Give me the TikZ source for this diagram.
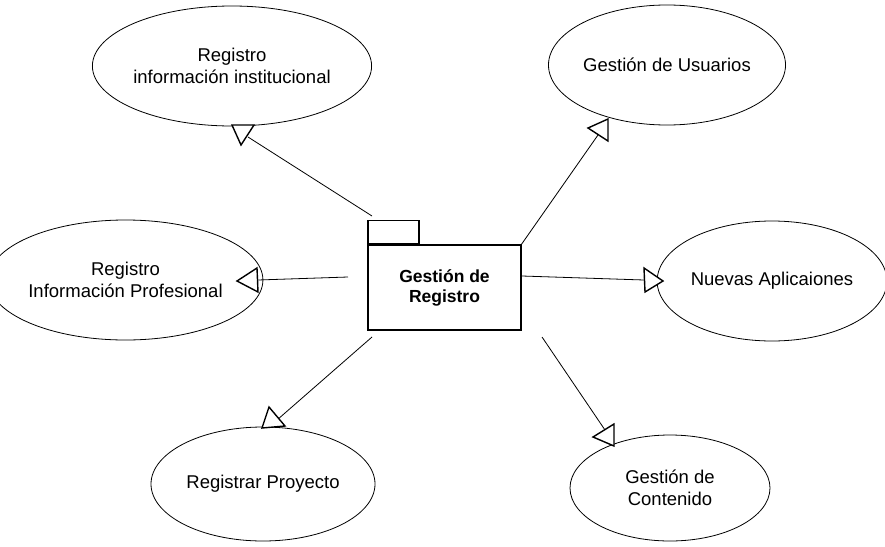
\documentclass[tikz,border=0pt]{standalone}
\usepackage{fontspec}
\setmainfont{Liberation Sans}
\usetikzlibrary{shapes.geometric}
\begin{document}
\begin{tikzpicture}[x=1pt,y=-1pt,
  usecase/.style={draw, ellipse, line width=0.8pt, inner sep=0pt, align=center,
                  font=\fontsize{18.5}{22.5}\selectfont},
  pkgbox/.style={draw, line width=1.2pt, inner sep=0pt},
  link/.style={line width=0.8pt},
  openhead/.style={draw, line width=1.4pt, line join=miter, fill=white}]
\fill[white] (0,0) rectangle (885,546);
\useasboundingbox (0,0) rectangle (885,546);

% use cases
\node[usecase, minimum width=230pt, minimum height=120pt] (inst) at (232,66)
  {Registro\\información institucional};
\node[usecase, minimum width=224pt, minimum height=120pt] (usu) at (667,65)
  {Gestión de Usuarios};
\node[usecase, minimum width=225pt, minimum height=120pt] (prof) at (125.5,280)
  {Registro\\Información Profesional};
\node[usecase, minimum width=218pt, minimum height=120pt] (nuevas) at (772,281)
  {Nuevas Aplicaiones};
\node[usecase, minimum width=224pt, minimum height=114pt] (proy) at (263,484)
  {Registrar Proyecto};
\node[usecase, minimum width=200pt, minimum height=106pt] (cont) at (670,488)
  {Gestión de\\Contenido};

% package
\node[pkgbox, minimum width=153pt, minimum height=85pt, align=center,
      font=\fontsize{17.5}{20}\selectfont\bfseries] (pkg) at (444.5,287.5)
  {Gestión de\\Registro};
\node[pkgbox, anchor=south west, minimum width=51pt, minimum height=23pt] (tab)
  at (pkg.north west) {};

% connector end points
\coordinate (s1) at (372,216); \coordinate (e1) at (248,137);
\coordinate (s2) at (521,245); \coordinate (e2) at (598,135);
\coordinate (s3) at (348,277); \coordinate (e3) at (258,280);
\coordinate (s4) at (522,276); \coordinate (e4) at (644,280);
\coordinate (s5) at (372,337); \coordinate (e5) at (277,420);
\coordinate (s6) at (542,337); \coordinate (e6) at (605,430);

\draw[link] (s1) -- (e1);
\draw[link] (s2) -- (e2);
\draw[link] (s3) -- (e3);
\draw[link] (s4) -- (e4);
\draw[link] (s5) -- (e5);
\draw[link] (s6) -- (e6);

% hollow triangle heads
\draw[openhead] (232,125) -- (254,125) -- (241,145) -- cycle;
\draw[openhead] (588,128) -- (608,119) -- (608,141) -- cycle;
\draw[openhead] (237,281) -- (257,268) -- (258,292) -- cycle;
\draw[openhead] (644,268) -- (645,292) -- (663,281) -- cycle;
\draw[openhead] (269,407) -- (285,426) -- (262,428) -- cycle;
\draw[openhead] (593,437) -- (614,424) -- (614,446) -- cycle;
\end{tikzpicture}
\end{document}
